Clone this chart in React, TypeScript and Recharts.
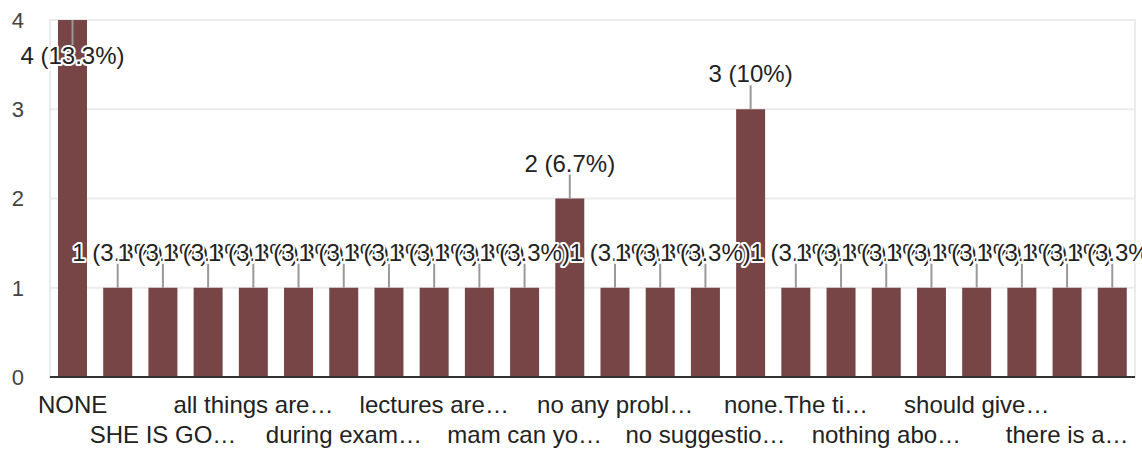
import { BarChart, Bar, XAxis, YAxis, CartesianGrid, ReferenceArea, LabelList } from "recharts";

// answers, in the order the form lists them (only every other one gets a visible label)
const categories = [
  "NONE",
  "Nothing",
  "SHE IS GO…",
  "Very good",
  "all things are…",
  "best teacher",
  "during exam…",
  "good",
  "lectures are…",
  "mam are good",
  "mam can yo…",
  "no",
  "no any probl…",
  "no problem",
  "no suggestio…",
  "none",
  "none.The ti…",
  "nothing",
  "nothing abo…",
  "ok",
  "should give…",
  "teaching is good",
  "there is a…",
  "very good",
];
const counts = [4, 1, 1, 1, 1, 1, 1, 1, 1, 1, 1, 2, 1, 1, 1, 3, 1, 1, 1, 1, 1, 1, 1, 1];
const yTicks = [0, 1, 2, 3, 4];

const total = counts.reduce((a, b) => a + b, 0);
const data = categories.map((name, i) => ({ name, count: counts[i] }));

const FONT = '"Liberation Sans", Arial, sans-serif';
const BAR = "#774545";

const pct = (v: number) => `${parseFloat(((v / total) * 100).toFixed(1))}%`;

function Stem(p: any) {
  const cx = Number(p.x) + Number(p.width) / 2;
  const top = Number(p.y);
  const inside = top < 45;
  return (
    <line x1={cx} x2={cx} y1={top} y2={inside ? top + 25 : top - 24} stroke="#999" strokeWidth={2} />
  );
}

function Annotation(p: any) {
  const cx = Number(p.x) + Number(p.width) / 2;
  const top = Number(p.y);
  const inside = top < 45;
  return (
    <text
      x={cx}
      y={inside ? top + 44 : top - 27}
      textAnchor="middle"
      fontFamily={FONT}
      fontSize={24}
      fill="#222"
      stroke="#fff"
      strokeWidth={4}
      strokeLinejoin="round"
      paintOrder="stroke"
    >
      {`${p.value} (${pct(Number(p.value))})`}
    </text>
  );
}

function XTick(props: any) {
  const { x, y, payload } = props;
  const i = categories.indexOf(payload.value);
  if (i % 2 !== 0) return <g />;
  const row = (i / 2) % 2;
  return (
    <text x={x} y={y + (row ? 66 : 36)} textAnchor="middle" fontFamily={FONT} fontSize={24} fill="#222">
      {payload.value}
    </text>
  );
}

export default function App() {
  return (
    <div style={{ position: "absolute", left: 0, top: 0, background: "#fff" }}>
      <BarChart
        width={1142}
        height={454}
        data={data}
        margin={{ top: 20, right: 7, bottom: 0, left: 0 }}
      >
        <CartesianGrid vertical={false} stroke="#ebebeb" strokeWidth={2} />
        <ReferenceArea y1={0} y2={4} fill="none" stroke="#ebebeb" strokeWidth={2} />
        <XAxis
          dataKey="name"
          interval={0}
          tick={<XTick />}
          tickLine={false}
          tickSize={0}
          tickMargin={0}
          axisLine={{ stroke: "#333", strokeWidth: 2 }}
          height={77}
        />
        <YAxis
          type="number"
          domain={[0, 4]}
          ticks={yTicks}
          width={50}
          axisLine={false}
          tickLine={false}
          tickSize={0}
          tickMargin={26}
          tick={{ fontSize: 22, fill: "#444", fontFamily: FONT }}
        />
        <Bar dataKey="count" fill={BAR} barSize={29} isAnimationActive={false}>
          <LabelList dataKey="count" content={<Stem />} />
          <LabelList dataKey="count" content={<Annotation />} />
        </Bar>
      </BarChart>
    </div>
  );
}
